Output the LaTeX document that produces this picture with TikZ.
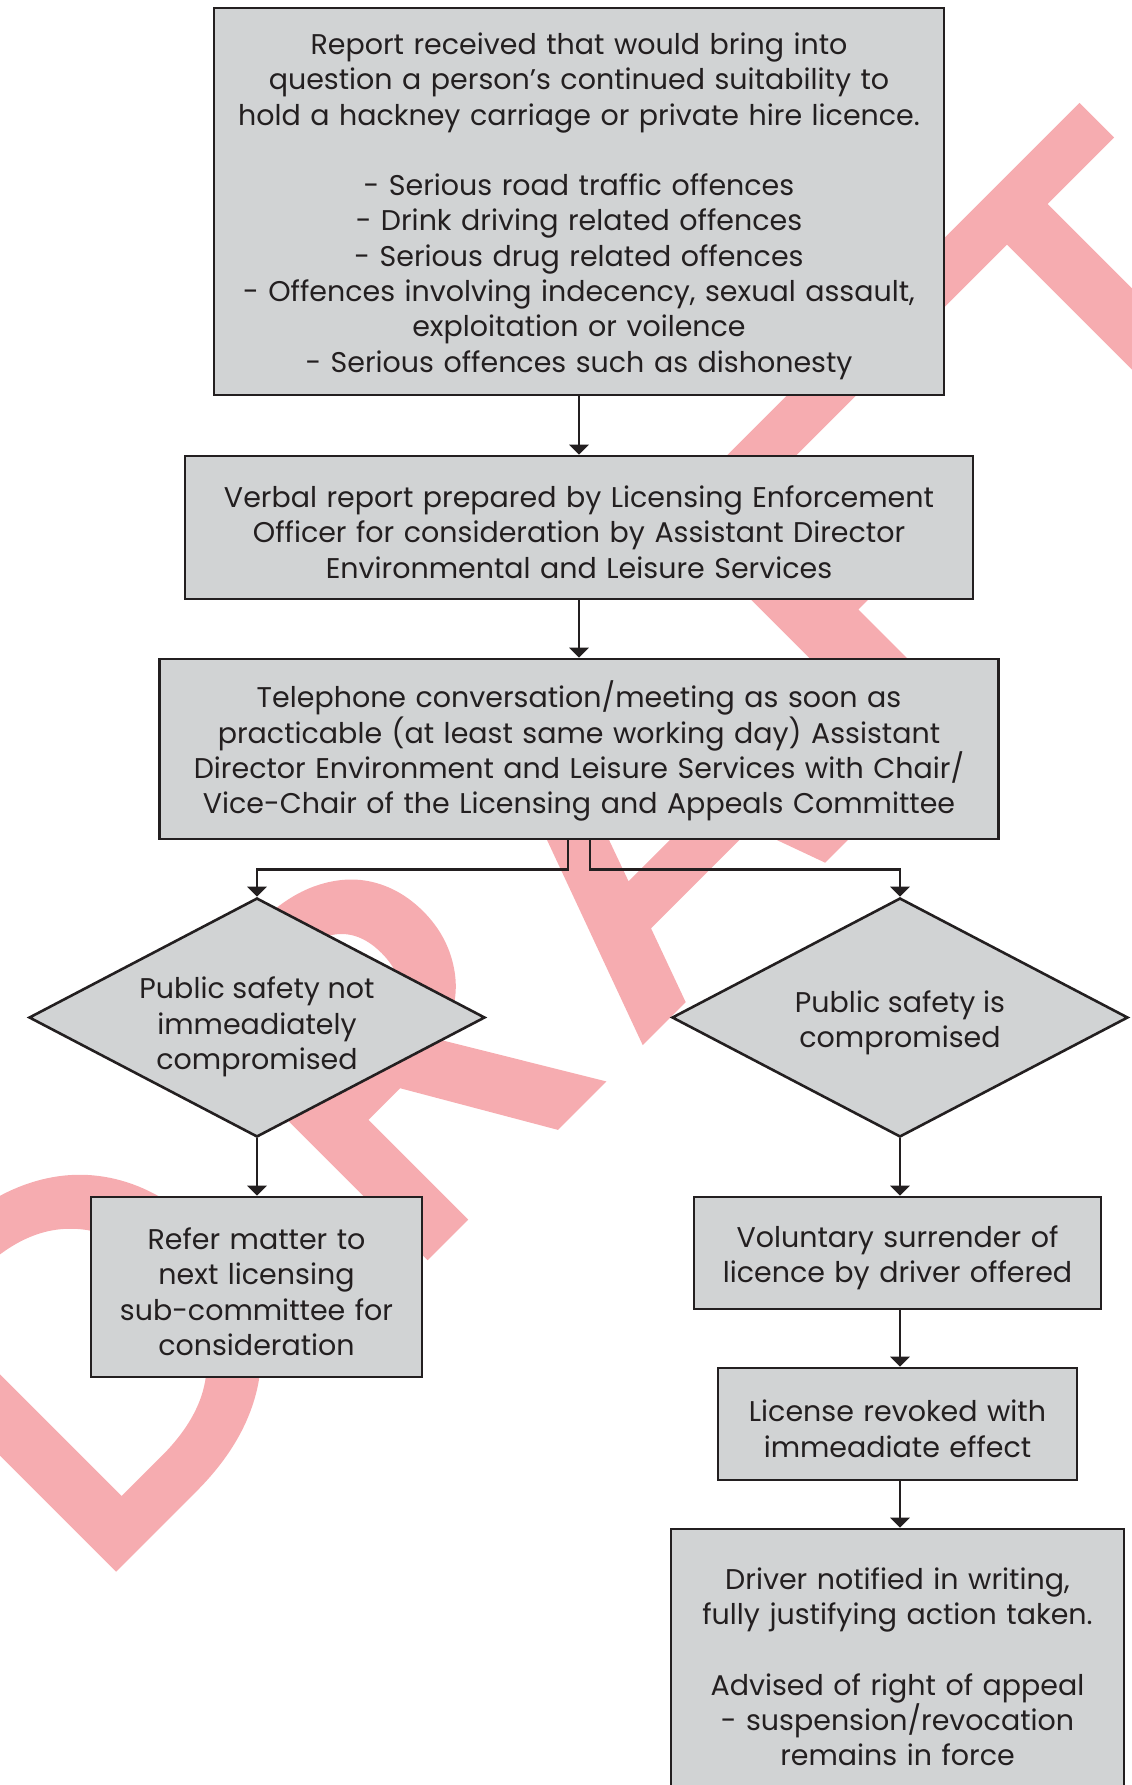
\documentclass[tikz,border=0pt]{standalone}
\usepackage{fontspec}
\setmainfont{Poppins}
\newfontfamily\wmfont{Poppins}[FakeBold=2.5]
\usetikzlibrary{arrows.meta,shapes.geometric,calc}
\definecolor{boxgray}{HTML}{D1D3D4}
\definecolor{ink}{HTML}{231F20}
\definecolor{wmpink}{HTML}{F6ACB0}
\tikzset{
  box/.style={draw=ink, fill=boxgray, line width=2.6pt, rectangle, inner sep=0pt,
    align=center, text=ink, font=\fontsize{28.5}{35.3}\selectfont,
    execute at begin node={\rule{0pt}{31pt}}},
  dia/.style={draw=ink, fill=boxgray, line width=2.6pt, diamond, shape aspect=1.9,
    inner sep=0pt, minimum width=456pt, minimum height=239pt},
  diatext/.style={align=center, text=ink, font=\fontsize{28.5}{35.3}\selectfont, inner sep=0pt},
  arr/.style={draw=ink, line width=2.6pt, -{Triangle[width=19pt,length=10pt]}},
  wm/.style={text=wmpink, inner sep=0pt, rotate=45, font=\wmfont\fontsize{495}{495}\selectfont},
}
\begin{document}
\begin{tikzpicture}[x=1pt,y=-1pt]
\useasboundingbox (0,0) rectangle (1132,1785);
\clip (0,0) rectangle (1132,1785);
% watermark, letters placed along the 45 degree baseline x+y=1679
\node[wm, anchor=base west] (wmD) at (89,1590) {D\kern91pt R};
\node[wm, anchor=base] (wmA) at (751,928) {A};
\node[wm, anchor=base west] (wmF) at (888,791) {\scalebox{1.2}[1]{F}};
\node[wm, anchor=base] (wmT) at (1241,438) {T};
% boxes
\node[box, minimum width=730pt, minimum height=387pt, text width=715pt] (b1) at (579,201.5)
 {Report received that would bring into\\
  question a person’s continued suitability to\\
  hold a hackney carriage or private hire licence.\\[35.3pt]
  - Serious road traffic offences\\
  - Drink driving related offences\\
  - Serious drug related offences\\
  - Offences involving indecency, sexual assault,\\
  exploitation or voilence\\
  - Serious offences such as dishonesty};
\node[box, minimum width=788pt, minimum height=143pt, text width=775pt] (b2) at (579,527.5)
 {Verbal report prepared by Licensing Enforcement\\
  Officer for consideration by Assistant Director\\
  Environmental and Leisure Services};
\node[box, minimum width=839pt, minimum height=180pt, text width=825pt] (b3) at (579,749)
 {Telephone conversation/meeting as soon as\\
  practicable (at least same working day) Assistant\\
  Director Environment and Leisure Services with Chair/\\
  Vice-Chair of the Licensing and Appeals Committee};
\node[dia] (d1) at (257,1017.5) {};
\node[diatext] (t1) at (257,1027) {Public safety not\\immeadiately\\compromised};
\node[dia] (d2) at (900,1017.5) {};
\node[diatext] (t2) at (900,1023) {Public safety is\\compromised};
\node[box, minimum width=331pt, minimum height=180pt, text width=325pt] (l1) at (256.5,1287)
 {Refer matter to\\next licensing\\sub-committee for\\consideration};
\node[box, minimum width=407pt, minimum height=112pt, text width=400pt] (r1) at (897.5,1253)
 {Voluntary surrender of\\licence by driver offered};
\node[box, minimum width=359pt, minimum height=112pt, text width=350pt] (r2) at (897.5,1424)
 {License revoked with\\immeadiate effect};
\node[box, minimum width=453pt, minimum height=266pt, text width=445pt] (r3) at (897.5,1662)
 {Driver notified in writing,\\fully justifying action taken.\\[35.3pt]
  Advised of right of appeal\\- suspension/revocation\\remains in force};
% connectors
\draw[arr] (b1.south) -- (b1.south |- b2.north);
\draw[arr] (b2.south) -- (b2.south |- b3.north);
\draw[arr] ([xshift=-11pt]b3.south) -- ++(0,29) -| (d1.north);
\draw[arr] ([xshift=11pt]b3.south) -- ++(0,29) -| (d2.north);
\draw[arr] (d1.south) -- (d1.south |- l1.north);
\draw[arr] (d2.south) -- (d2.south |- r1.north);
\draw[arr] (d2.south |- r1.south) -- (d2.south |- r2.north);
\draw[arr] (d2.south |- r2.south) -- (d2.south |- r3.north);
\end{tikzpicture}
\end{document}
